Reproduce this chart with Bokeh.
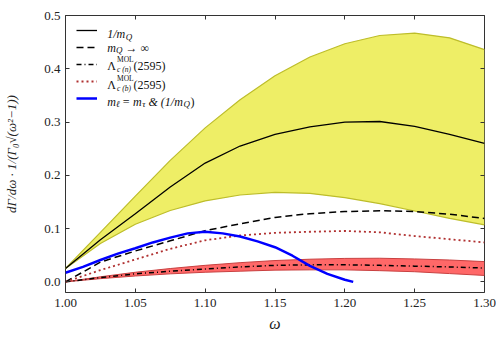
import numpy as np
from bokeh.plotting import figure
from bokeh.models import (Range1d, LinearAxis, FixedTicker, PrintfTickFormatter,
                          Legend, LegendItem, Label)
from bokeh.embed import file_html
from bokeh.resources import INLINE

# ---------------- data ----------------
omega = [1.000, 1.025, 1.050, 1.075, 1.100, 1.125, 1.150, 1.175, 1.200, 1.225, 1.250, 1.275, 1.300]
band_1mq_upper = [0.025, 0.093, 0.161, 0.228, 0.289, 0.342, 0.387, 0.422, 0.447, 0.4625, 0.467, 0.458, 0.436]
band_1mq_lower = [0.025, 0.072, 0.108, 0.134, 0.152, 0.163, 0.168, 0.166, 0.158, 0.147, 0.133, 0.119, 0.107]
central_1mq = [0.025, 0.079, 0.128, 0.178, 0.223, 0.255, 0.277, 0.291, 0.300, 0.301, 0.292, 0.277, 0.260]
heavy_quark = [0.0, 0.037, 0.058, 0.077, 0.096, 0.109, 0.121, 0.128, 0.132, 0.1335, 0.132, 0.127, 0.119]
mol_b = [0.0, 0.022, 0.042, 0.062, 0.078, 0.087, 0.092, 0.094, 0.0955, 0.093, 0.086, 0.080, 0.074]
mol_n = [0.0, 0.008, 0.015, 0.020, 0.024, 0.028, 0.031, 0.032, 0.032, 0.031, 0.0295, 0.028, 0.026]
mol_n_upper = [0.0, 0.0095, 0.018, 0.025, 0.031, 0.036, 0.040, 0.0425, 0.044, 0.0443, 0.043, 0.041, 0.038]
mol_n_lower = [0.0, 0.006, 0.011, 0.015, 0.018, 0.020, 0.022, 0.0225, 0.0225, 0.021, 0.019, 0.0155, 0.012]
omega_tau = [1.000, 1.0125, 1.025, 1.0375, 1.050, 1.0625, 1.075, 1.0875, 1.100, 1.1125,
             1.125, 1.1375, 1.150, 1.1625, 1.175, 1.1875, 1.200, 1.206]
tau_1mq = [0.017, 0.028, 0.041, 0.053, 0.063, 0.074, 0.083, 0.091, 0.094, 0.091,
           0.085, 0.076, 0.065, 0.049, 0.030, 0.015, 0.004, 0.0]

x_ticks = [1.00, 1.05, 1.10, 1.15, 1.20, 1.25, 1.30]
y_ticks = [0.0, 0.1, 0.2, 0.3, 0.4, 0.5]

# ---------------- figure ----------------
FONT = "Liberation Serif"
p = figure(width=496, height=334,
           min_border_left=65, min_border_right=12, min_border_top=15, min_border_bottom=41,
           x_range=Range1d(1.0, 1.3), y_range=Range1d(-0.02, 0.5),
           output_backend="svg", toolbar_location=None)
p.grid.visible = False
p.outline_line_color = "#333333"
p.outline_line_width = 1
p.background_fill_color = "white"
p.border_fill_color = "white"

def style_axis(ax, ticks, fmt, labels=True, standoff=5):
    ax.ticker = FixedTicker(ticks=ticks)
    ax.formatter = PrintfTickFormatter(format=fmt)
    ax.axis_line_color = None
    ax.major_tick_in = 4
    ax.major_tick_out = 0
    ax.major_tick_line_color = "#333333"
    ax.minor_tick_line_color = None
    ax.major_label_standoff = standoff
    if labels:
        ax.major_label_text_font = FONT
        ax.major_label_text_font_size = "13px"
        ax.major_label_text_color = "#222222"
    else:
        ax.major_label_text_color = None
        ax.major_label_text_font_size = "1px"
        ax.major_label_standoff = 0

bottom_ax = p.xaxis[0]
left_ax = p.yaxis[0]
style_axis(bottom_ax, x_ticks, "%.2f", standoff=6)
style_axis(left_ax, y_ticks, "%.1f", standoff=5)

bottom_ax.axis_label = "ω"
bottom_ax.axis_label_text_font = FONT
bottom_ax.axis_label_text_font_style = "italic"
bottom_ax.axis_label_text_font_size = "16px"
bottom_ax.axis_label_text_color = "#222222"
bottom_ax.axis_label_standoff = 5

left_ax.axis_label = "dΓ/dω · 1/(Γ₀√(ω²−1))"
left_ax.axis_label_text_font = FONT
left_ax.axis_label_text_font_style = "italic"
left_ax.axis_label_text_font_size = "13px"
left_ax.axis_label_text_color = "#222222"
left_ax.axis_label_standoff = 22

top_ax = LinearAxis()
right_ax = LinearAxis()
style_axis(top_ax, x_ticks, "%.2f", labels=False)
style_axis(right_ax, y_ticks, "%.1f", labels=False)
p.add_layout(top_ax, "above")
p.add_layout(right_ax, "right")

# ---------------- bands ----------------
p.varea(x=omega, y1=band_1mq_lower, y2=band_1mq_upper, fill_color="#eeee66")
p.line(omega, band_1mq_upper, line_color="#bdbd2a", line_width=1.2)
p.line(omega, band_1mq_lower, line_color="#bdbd2a", line_width=1.2)

p.varea(x=omega, y1=mol_n_lower, y2=mol_n_upper, fill_color="#ff6868")
p.line(omega, mol_n_upper, line_color="#c84040", line_width=1)
p.line(omega, mol_n_lower, line_color="#c84040", line_width=1)

# ---------------- curves ----------------
r_solid = p.line(omega, central_1mq, line_color="black", line_width=1.3)
r_dash = p.line(omega, heavy_quark, line_color="black", line_width=1.5, line_dash="7 4")
r_dashdot = p.line(omega, mol_n, line_color="black", line_width=1.5, line_dash="5 3 1 3")
r_dot = p.line(omega, mol_b, line_color="#b03030", line_width=1.8, line_dash="2 3")
r_blue = p.line(omega_tau, tau_1mq, line_color="#0000ff", line_width=2.5)

legend = Legend(items=[LegendItem(label=" ", renderers=[r]) for r in
                       [r_solid, r_dash, r_dashdot, r_dot, r_blue]],
                location="top_left", margin=11, padding=0, spacing=9,
                glyph_width=21, glyph_height=8, label_height=8, label_width=0,
                label_standoff=0, label_text_font_size="6px",
                border_line_color=None, background_fill_alpha=0)
p.add_layout(legend)

# ---------------- legend texts (math-like, built from pieces) ----------------
def X(px):
    return 1.0 + (px - 65.0) / 419.0 * 0.3

def Y(py):
    return (282.3 - py) / 534.6

def lab(px, py, text, size, italic=True):
    p.add_layout(Label(x=X(px), y=Y(py), text=text, text_font=FONT,
                       text_font_size=f"{size}px",
                       text_font_style="italic" if italic else "normal",
                       text_baseline="alphabetic", text_align="left",
                       text_color="#111111"))

# row 1: 1/m_Q
lab(106.7, 34, "1/m", 12)
lab(125.2, 36.5, "Q", 9)
# row 2: m_Q -> inf
lab(106.7, 47.5, "m", 12)
lab(115.6, 50, "Q", 9)
lab(125, 47.5, "→ ∞", 12, italic=False)
# row 3 / 4: Lambda_c^MOL(2595)
for base, tag in [(65.5, "c (n)"), (84.5, "c (b)")]:
    lab(106.7, base, "Λ", 12, italic=False)
    lab(116.5, base - 6, "MOL", 7.5, italic=False)
    lab(116.5, base + 3.5, tag, 7.5)
    lab(133, base, "(2595)", 12, italic=False)
# row 5: m_l = m_tau & (1/m_Q)
lab(106.7, 101.5, "m", 12)
lab(115.6, 104, "ℓ", 9)
lab(121.5, 101.5, "= m", 12)
lab(141.8, 104, "τ", 9)
lab(148, 101.5, "& (1/m", 12)
lab(183, 104, "Q", 9)
lab(190, 101.5, ")", 12, italic=False)

open("out.html", "w").write(file_html(p, INLINE))
